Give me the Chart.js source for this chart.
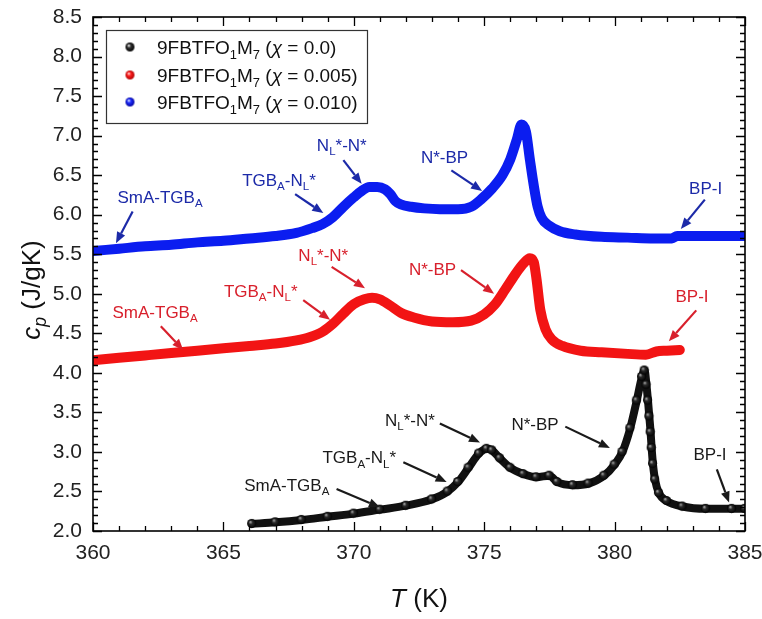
<!DOCTYPE html>
<html>
<head>
<meta charset="utf-8">
<script src="https://cdn.jsdelivr.net/npm/chart.js@4.4.1/dist/chart.umd.min.js"></script>
<style>
  html, body { margin: 0; padding: 0; background: #fff; }
  #wrap { width: 762px; height: 619px; }
</style>
</head>
<body>
<div id="wrap"><canvas id="cpChart" width="762" height="619"></canvas></div>
<script>
const blueT  = [360.0, 361.0, 362.0, 363.0, 364.0, 365.0, 366.0, 367.0, 367.8, 368.4, 368.8, 369.2, 369.6, 370.0, 370.3, 370.6, 370.9, 371.2, 371.4, 371.6, 371.8, 372.2, 372.7, 373.3, 374.0, 374.5, 374.9, 375.3, 375.7, 376.0, 376.25, 376.43, 376.6, 376.75, 376.9, 377.05, 377.2, 377.5, 377.9, 378.5, 379.5, 380.5, 381.5, 382.2, 382.4, 383.5, 385.0];
const blueCp = [5.54, 5.57, 5.60, 5.62, 5.65, 5.67, 5.70, 5.73, 5.77, 5.83, 5.88, 5.97, 6.10, 6.22, 6.30, 6.35, 6.35, 6.32, 6.26, 6.17, 6.13, 6.10, 6.08, 6.07, 6.07, 6.10, 6.20, 6.33, 6.50, 6.70, 6.95, 7.14, 7.05, 6.70, 6.37, 6.10, 5.96, 5.86, 5.79, 5.75, 5.72, 5.71, 5.70, 5.70, 5.73, 5.73, 5.73];

const redT  = [360.0, 361.0, 362.0, 363.0, 364.0, 365.0, 366.0, 367.0, 367.8, 368.3, 368.8, 369.2, 369.6, 370.0, 370.4, 370.7, 371.0, 371.4, 371.8, 372.3, 373.0, 373.8, 374.5, 375.0, 375.4, 375.8, 376.2, 376.5, 376.75, 376.9, 377.0, 377.15, 377.35, 377.6, 378.0, 378.7, 379.5, 380.5, 381.2, 381.6, 382.0, 382.5];
const redCp = [4.16, 4.19, 4.22, 4.25, 4.28, 4.31, 4.34, 4.37, 4.41, 4.45, 4.52, 4.62, 4.75, 4.87, 4.93, 4.95, 4.93, 4.85, 4.76, 4.70, 4.65, 4.64, 4.66, 4.74, 4.86, 5.05, 5.25, 5.38, 5.45, 5.40, 5.20, 4.80, 4.55, 4.42, 4.34, 4.28, 4.26, 4.24, 4.23, 4.27, 4.28, 4.29];

const blackT  = [366.1, 367.0, 368.0, 369.0, 370.0, 371.0, 372.0, 373.0, 373.6, 374.0, 374.4, 374.8, 375.1, 375.3, 375.6, 376.0, 376.5, 377.0, 377.5, 377.8, 378.4, 379.0, 379.6, 380.0, 380.3, 380.6, 380.85, 381.05, 381.15, 381.22, 381.28, 381.33, 381.38, 381.42, 381.47, 381.55, 381.7, 382.0, 382.6, 383.5, 384.5, 385.0];
const blackCp = [2.09, 2.11, 2.14, 2.18, 2.22, 2.27, 2.32, 2.40, 2.50, 2.62, 2.80, 2.98, 3.04, 3.02, 2.92, 2.80, 2.72, 2.68, 2.70, 2.62, 2.58, 2.60, 2.70, 2.84, 3.00, 3.30, 3.65, 3.95, 4.03, 3.85, 3.65, 3.45, 3.25, 3.05, 2.85, 2.65, 2.48, 2.38, 2.31, 2.28, 2.28, 2.28];

const seriesNames = ['9FBTFO_{1}M_{7} (~{χ} = 0.0)', '9FBTFO_{1}M_{7} (~{χ} = 0.005)', '9FBTFO_{1}M_{7} (~{χ} = 0.010)'];
const xTicks = [360, 365, 370, 375, 380, 385];
const yTicks = [2.0, 2.5, 3.0, 3.5, 4.0, 4.5, 5.0, 5.5, 6.0, 6.5, 7.0, 7.5, 8.0, 8.5];

const FONT = '"Liberation Sans", Arial, sans-serif';
const BLUE = '#0b1df0', RED = '#f21414', BLACK = '#111';
const BLUE_TXT = '#1c2aa8', RED_TXT = '#d8202c', BLACK_TXT = '#1a1a1a';

// 전이 표시 (텍스트 중심, 화살표 시작/끝 - 데이터 좌표)
const notes = [
    { s: 'SmA-TGB_{A}',  c: BLUE_TXT, t: [362.57, 6.23], a: [361.52, 6.04], b: [360.88, 5.64] },
    { s: 'TGB_{A}-N_{L}*', c: BLUE_TXT, t: [367.13, 6.44], a: [367.75, 6.26], b: [368.83, 6.02] },
    { s: 'N_{L}*-N*',    c: BLUE_TXT, t: [369.54, 6.88], a: [369.60, 6.69], b: [370.30, 6.39] },
    { s: 'N*-BP',        c: BLUE_TXT, t: [373.48, 6.73], a: [373.74, 6.56], b: [374.92, 6.30] },
    { s: 'BP-I',         c: BLUE_TXT, t: [383.49, 6.34], a: [383.46, 6.19], b: [382.54, 5.82] },
    { s: 'SmA-TGB_{A}',  c: RED_TXT, t: [362.38, 4.77], a: [362.60, 4.59], b: [363.46, 4.29] },
    { s: 'TGB_{A}-N_{L}*', c: RED_TXT, t: [366.43, 5.04], a: [368.06, 4.92], b: [369.09, 4.67] },
    { s: 'N_{L}*-N*',    c: RED_TXT, t: [368.83, 5.49], a: [369.15, 5.34], b: [370.43, 5.07] },
    { s: 'N*-BP',        c: RED_TXT, t: [373.02, 5.31], a: [374.11, 5.30], b: [375.38, 5.00] },
    { s: 'BP-I',         c: RED_TXT, t: [382.97, 4.97], a: [383.13, 4.79], b: [382.08, 4.40] },
    { s: 'SmA-TGB_{A}',  c: BLACK_TXT, t: [367.43, 2.58], a: [369.34, 2.53], b: [371.00, 2.30] },
    { s: 'TGB_{A}-N_{L}*', c: BLACK_TXT, t: [370.21, 2.93], a: [371.90, 2.87], b: [373.56, 2.62] },
    { s: 'N_{L}*-N*',    c: BLACK_TXT, t: [372.15, 3.40], a: [373.30, 3.36], b: [374.84, 3.12] },
    { s: 'N*-BP',        c: BLACK_TXT, t: [376.95, 3.35], a: [378.11, 3.32], b: [379.82, 3.05] },
    { s: 'BP-I',         c: BLACK_TXT, t: [383.66, 2.98], a: [383.92, 2.78], b: [384.39, 2.36] }
];

// 구슬 모양 마커
function sphere(color, edge, r, hi) {
    const c = document.createElement('canvas');
    c.width = c.height = Math.ceil(r * 2 + 2);
    const g = c.getContext('2d');
    const grad = g.createRadialGradient(r * 0.7 + 1, r * 0.65 + 1, r * 0.1, r + 1, r + 1, r);
    grad.addColorStop(0, hi);
    grad.addColorStop(0.35, color);
    grad.addColorStop(1, edge);
    g.fillStyle = grad;
    g.beginPath();
    g.arc(r + 1, r + 1, r, 0, Math.PI * 2);
    g.fill();
    return c;
}
const blackBall = sphere('#2a2a2a', '#000', 4.6, '#9a9a9a');
const legendBalls = [sphere('#333', '#000', 4.5, '#e8e8e8'), sphere('#ff2020', '#b00000', 4.5, '#ffd0d0'), sphere('#2030ff', '#0000a0', 4.5, '#d0d8ff')];

// 아래첨자/이탤릭 텍스트
function parseRich(str) {
    const parts = [];
    const re = /_\{([^}]*)\}|~\{([^}]*)\}|([^_~]+)/g;
    let m;
    while ((m = re.exec(str))) {
        if (m[1] !== undefined) {
            let t = m[1], it = false;
            if (t[0] === '~') { it = true; t = t.slice(1); }
            parts.push({ t, sub: true, it });
        } else if (m[2] !== undefined) {
            parts.push({ t: m[2], it: true });
        } else {
            parts.push({ t: m[3] });
        }
    }
    return parts;
}
function drawRich(ctx, str, x, y, size, align) {
    const parts = parseRich(str);
    let total = 0;
    parts.forEach(p => {
        p.font = (p.it ? 'italic ' : '') + (p.sub ? size * 0.68 : size) + 'px ' + FONT;
        ctx.font = p.font;
        p.w = ctx.measureText(p.t).width;
        total += p.w;
    });
    let cx = align === 'center' ? x - total / 2 : x;
    ctx.textAlign = 'left';
    ctx.textBaseline = 'alphabetic';
    parts.forEach(p => {
        ctx.font = p.font;
        ctx.fillText(p.t, cx, p.sub ? y + size * 0.24 : y);
        cx += p.w;
    });
}
function arrow(ctx, x1, y1, x2, y2, color) {
    const ang = Math.atan2(y2 - y1, x2 - x1);
    const hl = 11, hw = 4.5;
    const bx = x2 - hl * Math.cos(ang), by = y2 - hl * Math.sin(ang);
    ctx.strokeStyle = color;
    ctx.fillStyle = color;
    ctx.lineWidth = 2.2;
    ctx.beginPath();
    ctx.moveTo(x1, y1);
    ctx.lineTo(bx, by);
    ctx.stroke();
    ctx.beginPath();
    ctx.moveTo(x2, y2);
    ctx.lineTo(bx + hw * Math.sin(ang), by - hw * Math.cos(ang));
    ctx.lineTo(bx - hw * Math.sin(ang), by + hw * Math.cos(ang));
    ctx.closePath();
    ctx.fill();
}

// 틀, 안쪽 눈금, 축 제목, 범례, 주석
const decor = {
    id: 'decor',
    afterDraw(chart) {
        const ctx = chart.ctx;
        const { left, right, top, bottom } = chart.chartArea;
        const xs = chart.scales.x, ys = chart.scales.y;
        ctx.save();

        ctx.strokeStyle = '#000';
        ctx.lineWidth = 1.6;
        ctx.strokeRect(left, top, right - left, bottom - top);

        ctx.lineWidth = 1.3;
        ctx.beginPath();
        for (let v = 360; v <= 385; v++) {
            const len = v % 5 === 0 ? 9 : 5;
            const px = Math.round(xs.getPixelForValue(v)) + 0.5;
            ctx.moveTo(px, bottom); ctx.lineTo(px, bottom - len);
            ctx.moveTo(px, top); ctx.lineTo(px, top + len);
        }
        for (let i = 20; i <= 85; i++) {
            const len = i % 5 === 0 ? 9 : 5;
            const py = Math.round(ys.getPixelForValue(i / 10)) + 0.5;
            ctx.moveTo(left, py); ctx.lineTo(left + len, py);
            ctx.moveTo(right, py); ctx.lineTo(right - len, py);
        }
        ctx.stroke();

        // 축 제목
        ctx.fillStyle = '#111';
        drawRich(ctx, '~{T} (K)', 419, 607, 26, 'center');
        ctx.save();
        ctx.translate(40, 290);
        ctx.rotate(-Math.PI / 2);
        drawRich(ctx, '~{c}_{~p} (J/gK)', 0, 0, 26, 'center');
        ctx.restore();

        // 범례
        ctx.fillStyle = '#fff';
        ctx.fillRect(106, 30, 262, 94);
        ctx.strokeStyle = '#333';
        ctx.lineWidth = 1.2;
        ctx.strokeRect(106.5, 30.5, 261, 93);
        const rows = [47, 75, 102];
        rows.forEach((ry, i) => {
            const b = legendBalls[i];
            ctx.drawImage(b, 130 - b.width / 2, ry - b.height / 2);
            ctx.fillStyle = '#111';
            drawRich(ctx, seriesNames[i], 157, ry + 7, 19, 'left');
        });

        // 전이 주석
        notes.forEach(n => {
            const ax = xs.getPixelForValue(n.a[0]), ay = ys.getPixelForValue(n.a[1]);
            const bx = xs.getPixelForValue(n.b[0]), by = ys.getPixelForValue(n.b[1]);
            arrow(ctx, ax, ay, bx, by, n.c);
            ctx.fillStyle = n.c;
            drawRich(ctx, n.s, xs.getPixelForValue(n.t[0]), ys.getPixelForValue(n.t[1]) + 6, 17, 'center');
        });
        ctx.restore();
    }
};

const toPoints = (xs, ys) => xs.map((x, i) => ({ x: x, y: ys[i] }));

new Chart(document.getElementById('cpChart').getContext('2d'), {
    type: 'scatter',
    data: {
        datasets: [
            {
                label: seriesNames[0],
                data: toPoints(blackT, blackCp),
                showLine: true,
                borderColor: BLACK,
                borderWidth: 8,
                pointStyle: blackBall,
                pointRadius: 4.6,
                cubicInterpolationMode: 'monotone',
                borderCapStyle: 'round',
                borderJoinStyle: 'round'
            },
            {
                label: seriesNames[1],
                data: toPoints(redT, redCp),
                showLine: true,
                borderColor: RED,
                borderWidth: 10,
                pointRadius: 0,
                cubicInterpolationMode: 'monotone',
                borderCapStyle: 'round',
                borderJoinStyle: 'round'
            },
            {
                label: seriesNames[2],
                data: toPoints(blueT, blueCp),
                showLine: true,
                borderColor: BLUE,
                borderWidth: 10,
                pointRadius: 0,
                cubicInterpolationMode: 'monotone',
                borderCapStyle: 'round',
                borderJoinStyle: 'round'
            }
        ]
    },
    options: {
        responsive: false,
        animation: false,
        layout: { padding: { top: 17, right: 17, left: 0, bottom: 0 } },
        plugins: {
            legend: { display: false },
            tooltip: { enabled: false }
        },
        scales: {
            x: {
                type: 'linear',
                min: 360,
                max: 385,
                afterFit: s => { s.height = 88; s.paddingLeft = 0; s.paddingRight = 0; },
                afterBuildTicks: s => { s.ticks = xTicks.map(v => ({ value: v })); },
                grid: { display: false, drawTicks: false },
                border: { display: false },
                ticks: {
                    padding: 10,
                    color: '#222',
                    font: { family: FONT, size: 21 }
                }
            },
            y: {
                min: 2,
                max: 8.5,
                afterFit: s => { s.width = 93; s.paddingTop = 0; s.paddingBottom = 0; },
                afterBuildTicks: s => { s.ticks = yTicks.map(v => ({ value: v })); },
                grid: { display: false, drawTicks: false },
                border: { display: false },
                ticks: {
                    padding: 11,
                    color: '#222',
                    font: { family: FONT, size: 21 },
                    callback: v => Number(v).toFixed(1)
                }
            }
        }
    },
    plugins: [decor]
});
</script>
</body>
</html>
